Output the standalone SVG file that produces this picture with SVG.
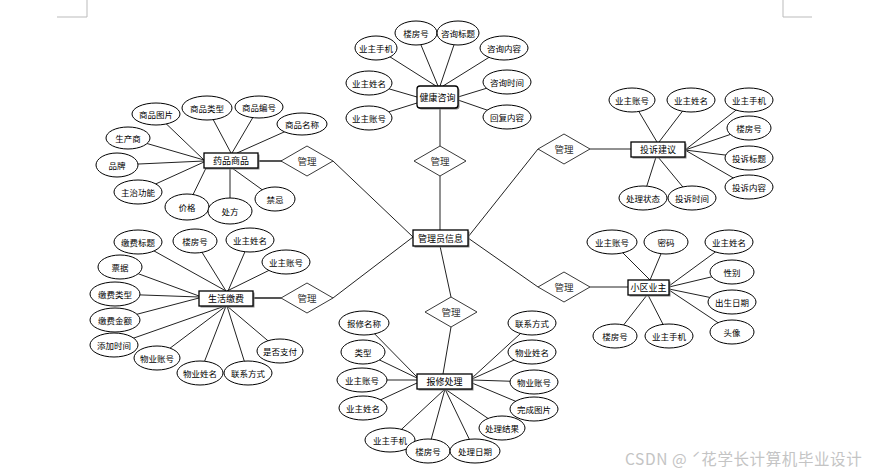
<svg xmlns="http://www.w3.org/2000/svg" width="877" height="474" viewBox="0 0 877 474">
<style>
text{font-family:"Noto Sans CJK SC","Liberation Sans",sans-serif;text-anchor:middle;dominant-baseline:central}
.a ellipse{fill:#fff;stroke:#000;stroke-width:1}
.a text{font-size:8.5px;fill:#000}
.e rect.s{fill:#888;stroke:none}
.e rect.b{fill:#fff;stroke:#000;stroke-width:1.3}
.e text{font-size:9px;fill:#000}
.r polygon{fill:#fff;stroke:#222;stroke-width:0.9}
.r text{font-size:9.5px;fill:#333}
#conn line{stroke:#222;stroke-width:1}
#conn line.t{stroke:#555;stroke-width:2}
.mark{stroke:#bbb;stroke-width:1;fill:none}
</style>
<rect width="877" height="474" fill="#fff"/>
<path class="mark" d="M57,17H87V0M783,0V17H812"/>
<g id="conn">
<!-- 健康咨询 -->
<line x1="376" y1="48" x2="436" y2="86"/><line x1="416" y1="33" x2="438" y2="86"/>
<line x1="458" y1="33" x2="440" y2="86"/><line x1="504" y1="48" x2="443" y2="86"/>
<line x1="369" y1="83" x2="417" y2="97"/><line x1="507" y1="82" x2="458" y2="97"/>
<line x1="369" y1="118" x2="417" y2="103"/><line x1="507" y1="117" x2="458" y2="100"/>
<line x1="440" y1="108" x2="440" y2="146"/><line x1="440" y1="176" x2="440" y2="230"/>
<!-- 药品商品 -->
<line x1="156" y1="114" x2="204" y2="160"/><line x1="207" y1="108" x2="231" y2="153"/>
<line x1="259" y1="107" x2="232" y2="153"/><line x1="302" y1="124" x2="237" y2="153"/>
<line x1="128" y1="138" x2="204" y2="160"/><line x1="117" y1="165" x2="204" y2="161"/>
<line x1="138" y1="192" x2="204" y2="162"/><line x1="187" y1="207" x2="206" y2="168"/>
<line x1="230" y1="211" x2="230" y2="168"/><line x1="275" y1="199" x2="232" y2="168"/>
<line class="t" x1="258" y1="161" x2="282" y2="161"/><line x1="333" y1="161" x2="413" y2="237"/>
<!-- 投诉建议 -->
<line x1="632" y1="100" x2="657" y2="142"/><line x1="691" y1="100" x2="659" y2="142"/>
<line x1="749" y1="100" x2="685" y2="150"/><line x1="749" y1="128" x2="685" y2="150"/>
<line x1="749" y1="158" x2="685" y2="150"/><line x1="749" y1="187" x2="685" y2="150"/>
<line x1="643" y1="198" x2="656" y2="157"/><line x1="692" y1="198" x2="658" y2="157"/>
<line x1="590" y1="149" x2="631" y2="149"/><line x1="538" y1="149" x2="468" y2="237"/>
<!-- 小区业主 -->
<line x1="612" y1="242" x2="650" y2="280"/><line x1="666" y1="242" x2="650" y2="280"/>
<line x1="729" y1="242" x2="669" y2="286"/><line x1="732" y1="272" x2="669" y2="287"/>
<line x1="732" y1="302" x2="669" y2="289"/><line x1="732" y1="332" x2="669" y2="290"/>
<line x1="615" y1="336" x2="647" y2="295"/><line x1="669" y1="336" x2="648" y2="295"/>
<line x1="590" y1="287" x2="628" y2="287"/><line x1="538" y1="287" x2="468" y2="238"/>
<!-- 生活缴费 -->
<line x1="138" y1="242" x2="226" y2="291"/><line x1="195" y1="241" x2="226" y2="291"/>
<line x1="250" y1="240" x2="228" y2="291"/><line x1="286" y1="262" x2="227" y2="291"/>
<line x1="120" y1="267" x2="199" y2="296"/><line x1="115" y1="294" x2="199" y2="297"/>
<line x1="115" y1="320" x2="199" y2="298"/><line x1="114" y1="345" x2="225" y2="306"/>
<line x1="157" y1="358" x2="226" y2="306"/><line x1="200" y1="373" x2="226" y2="306"/>
<line x1="248" y1="373" x2="227" y2="306"/><line x1="280" y1="351" x2="227" y2="306"/>
<line class="t" x1="253" y1="298" x2="281" y2="298"/><line x1="333" y1="298" x2="413" y2="237"/>
<!-- 报修处理 -->
<line x1="364" y1="323" x2="417" y2="377"/><line x1="363" y1="352" x2="417" y2="378"/>
<line x1="362" y1="380" x2="417" y2="380"/><line x1="363" y1="408" x2="417" y2="383"/>
<line x1="390" y1="440" x2="445" y2="389"/><line x1="428" y1="451" x2="445" y2="389"/>
<line x1="475" y1="451" x2="445" y2="389"/><line x1="502" y1="428" x2="445" y2="389"/>
<line x1="534" y1="409" x2="472" y2="383"/><line x1="534" y1="382" x2="472" y2="380"/>
<line x1="532" y1="352" x2="472" y2="379"/><line x1="532" y1="323" x2="472" y2="378"/>
<line x1="443" y1="374" x2="451" y2="327"/><line x1="440" y1="246" x2="451" y2="297"/>
</g>
<!-- relationships -->
<g id="rel-top" class="r"><polygon points="440,146 466,161 440,176 414,161"/><text x="440" y="161">管理</text></g>
<g id="rel-drug" class="r"><polygon points="307,146 333,161 307,176 281,161"/><text x="307" y="161">管理</text></g>
<g id="rel-complaint" class="r"><polygon points="564,134 590,149 564,164 538,149"/><text x="564" y="149">管理</text></g>
<g id="rel-owner" class="r"><polygon points="564,272 590,287 564,302 538,287"/><text x="564" y="287">管理</text></g>
<g id="rel-fee" class="r"><polygon points="307,283 333,298 307,313 281,298"/><text x="307" y="298">管理</text></g>
<g id="rel-repair" class="r"><polygon points="451,297 477,312 451,327 425,312"/><text x="451" y="312">管理</text></g>
<!-- entities -->
<g id="admin" class="e"><rect class="s" x="414.5" y="231.5" width="55" height="16"/><rect class="b" x="413" y="230" width="55" height="16"/><text x="440.5" y="238">管理员信息</text></g>
<g id="health" class="e"><rect class="s" x="418.5" y="87.5" width="41" height="22" rx="3"/><rect class="b" x="417" y="86" width="41" height="22" rx="3"/><text x="437.5" y="97">健康咨询</text></g>
<g id="drug" class="e"><rect class="s" x="205.5" y="154.5" width="54" height="15"/><rect class="b" x="204" y="153" width="54" height="15"/><text x="231" y="160.5">药品商品</text></g>
<g id="complaint" class="e"><rect class="s" x="632.5" y="143.5" width="54" height="15"/><rect class="b" x="631" y="142" width="54" height="15"/><text x="658" y="149.5">投诉建议</text></g>
<g id="owner" class="e"><rect class="s" x="629.5" y="281.5" width="41" height="15"/><rect class="b" x="628" y="280" width="41" height="15"/><text x="648.5" y="287.5">小区业主</text></g>
<g id="fee" class="e"><rect class="s" x="200.5" y="292.5" width="54" height="15"/><rect class="b" x="199" y="291" width="54" height="15"/><text x="226" y="298.5">生活缴费</text></g>
<g id="repair" class="e"><rect class="s" x="418.5" y="375.5" width="55" height="15"/><rect class="b" x="417" y="374" width="55" height="15"/><text x="444.5" y="381.5">报修处理</text></g>
<!-- attributes: 健康咨询 -->
<g id="h1" class="a"><ellipse cx="416" cy="33" rx="21" ry="12"/><text x="416" y="33">楼房号</text></g>
<g id="h2" class="a"><ellipse cx="458" cy="33" rx="21" ry="12"/><text x="458" y="33">咨询标题</text></g>
<g id="h3" class="a"><ellipse cx="376" cy="48" rx="21" ry="12"/><text x="376" y="48">业主手机</text></g>
<g id="h4" class="a"><ellipse cx="504" cy="48" rx="24" ry="12"/><text x="504" y="48">咨询内容</text></g>
<g id="h5" class="a"><ellipse cx="369" cy="83" rx="23" ry="12"/><text x="369" y="83">业主姓名</text></g>
<g id="h6" class="a"><ellipse cx="507" cy="82" rx="24" ry="12"/><text x="507" y="82">咨询时间</text></g>
<g id="h7" class="a"><ellipse cx="369" cy="118" rx="23" ry="12"/><text x="369" y="118">业主账号</text></g>
<g id="h8" class="a"><ellipse cx="507" cy="117" rx="24" ry="12"/><text x="507" y="117">回复内容</text></g>
<!-- 药品商品 -->
<g id="d1" class="a"><ellipse cx="156" cy="114" rx="24" ry="11"/><text x="156" y="114">商品图片</text></g>
<g id="d2" class="a"><ellipse cx="207" cy="108" rx="25" ry="12"/><text x="207" y="108">商品类型</text></g>
<g id="d3" class="a"><ellipse cx="259" cy="107" rx="24" ry="11"/><text x="259" y="107">商品编号</text></g>
<g id="d4" class="a"><ellipse cx="302" cy="124" rx="25" ry="11"/><text x="302" y="124">商品名称</text></g>
<g id="d5" class="a"><ellipse cx="128" cy="138" rx="22" ry="11"/><text x="128" y="138">生产商</text></g>
<g id="d6" class="a"><ellipse cx="117" cy="165" rx="21" ry="12"/><text x="117" y="165">品牌</text></g>
<g id="d7" class="a"><ellipse cx="138" cy="192" rx="24" ry="12"/><text x="138" y="192">主治功能</text></g>
<g id="d8" class="a"><ellipse cx="187" cy="207" rx="22" ry="13"/><text x="187" y="207">价格</text></g>
<g id="d9" class="a"><ellipse cx="230" cy="211" rx="22" ry="13"/><text x="230" y="211">处方</text></g>
<g id="d10" class="a"><ellipse cx="275" cy="199" rx="20" ry="12"/><text x="275" y="199">禁忌</text></g>
<!-- 投诉建议 -->
<g id="c1" class="a"><ellipse cx="632" cy="100" rx="23" ry="12"/><text x="632" y="100">业主账号</text></g>
<g id="c2" class="a"><ellipse cx="691" cy="100" rx="24" ry="12"/><text x="691" y="100">业主姓名</text></g>
<g id="c3" class="a"><ellipse cx="749" cy="100" rx="24" ry="12"/><text x="749" y="100">业主手机</text></g>
<g id="c4" class="a"><ellipse cx="749" cy="128" rx="22" ry="12"/><text x="749" y="128">楼房号</text></g>
<g id="c5" class="a"><ellipse cx="749" cy="158" rx="24" ry="12"/><text x="749" y="158">投诉标题</text></g>
<g id="c6" class="a"><ellipse cx="749" cy="187" rx="24" ry="12"/><text x="749" y="187">投诉内容</text></g>
<g id="c7" class="a"><ellipse cx="643" cy="198" rx="24" ry="12"/><text x="643" y="198">处理状态</text></g>
<g id="c8" class="a"><ellipse cx="692" cy="198" rx="24" ry="12"/><text x="692" y="198">投诉时间</text></g>
<!-- 小区业主 -->
<g id="o1" class="a"><ellipse cx="612" cy="242" rx="25" ry="12"/><text x="612" y="242">业主账号</text></g>
<g id="o2" class="a"><ellipse cx="666" cy="242" rx="22" ry="12"/><text x="666" y="242">密码</text></g>
<g id="o3" class="a"><ellipse cx="729" cy="242" rx="24" ry="12"/><text x="729" y="242">业主姓名</text></g>
<g id="o4" class="a"><ellipse cx="732" cy="272" rx="22" ry="12"/><text x="732" y="272">性别</text></g>
<g id="o5" class="a"><ellipse cx="732" cy="302" rx="24" ry="12"/><text x="732" y="302">出生日期</text></g>
<g id="o6" class="a"><ellipse cx="732" cy="332" rx="22" ry="12"/><text x="732" y="332">头像</text></g>
<g id="o7" class="a"><ellipse cx="615" cy="336" rx="22" ry="12"/><text x="615" y="336">楼房号</text></g>
<g id="o8" class="a"><ellipse cx="669" cy="336" rx="24" ry="12"/><text x="669" y="336">业主手机</text></g>
<!-- 生活缴费 -->
<g id="f1" class="a"><ellipse cx="138" cy="242" rx="24" ry="12"/><text x="138" y="242">缴费标题</text></g>
<g id="f2" class="a"><ellipse cx="195" cy="241" rx="22" ry="12"/><text x="195" y="241">楼房号</text></g>
<g id="f3" class="a"><ellipse cx="250" cy="240" rx="24" ry="12"/><text x="250" y="240">业主姓名</text></g>
<g id="f4" class="a"><ellipse cx="286" cy="262" rx="24" ry="12"/><text x="286" y="262">业主账号</text></g>
<g id="f5" class="a"><ellipse cx="120" cy="267" rx="22" ry="12"/><text x="120" y="267">票据</text></g>
<g id="f6" class="a"><ellipse cx="115" cy="294" rx="25" ry="12"/><text x="115" y="294">缴费类型</text></g>
<g id="f7" class="a"><ellipse cx="115" cy="320" rx="25" ry="12"/><text x="115" y="320">缴费金额</text></g>
<g id="f8" class="a"><ellipse cx="114" cy="345" rx="24" ry="12"/><text x="114" y="345">添加时间</text></g>
<g id="f9" class="a"><ellipse cx="157" cy="358" rx="23" ry="12"/><text x="157" y="358">物业账号</text></g>
<g id="f10" class="a"><ellipse cx="200" cy="373" rx="23" ry="12"/><text x="200" y="373">物业姓名</text></g>
<g id="f11" class="a"><ellipse cx="248" cy="373" rx="24" ry="12"/><text x="248" y="373">联系方式</text></g>
<g id="f12" class="a"><ellipse cx="280" cy="351" rx="23" ry="12"/><text x="280" y="351">是否支付</text></g>
<!-- 报修处理 -->
<g id="r1" class="a"><ellipse cx="364" cy="323" rx="25" ry="12"/><text x="364" y="323">报修名称</text></g>
<g id="r2" class="a"><ellipse cx="363" cy="352" rx="22" ry="12"/><text x="363" y="352">类型</text></g>
<g id="r3" class="a"><ellipse cx="362" cy="380" rx="25" ry="12"/><text x="362" y="380">业主账号</text></g>
<g id="r4" class="a"><ellipse cx="363" cy="408" rx="24" ry="12"/><text x="363" y="408">业主姓名</text></g>
<g id="r5" class="a"><ellipse cx="390" cy="440" rx="25" ry="12"/><text x="390" y="440">业主手机</text></g>
<g id="r6" class="a"><ellipse cx="428" cy="451" rx="22" ry="12"/><text x="428" y="451">楼房号</text></g>
<g id="r7" class="a"><ellipse cx="475" cy="451" rx="25" ry="12"/><text x="475" y="451">处理日期</text></g>
<g id="r8" class="a"><ellipse cx="502" cy="428" rx="23" ry="12"/><text x="502" y="428">处理结果</text></g>
<g id="r9" class="a"><ellipse cx="534" cy="409" rx="24" ry="12"/><text x="534" y="409">完成图片</text></g>
<g id="r10" class="a"><ellipse cx="534" cy="382" rx="24" ry="12"/><text x="534" y="382">物业账号</text></g>
<g id="r11" class="a"><ellipse cx="532" cy="352" rx="24" ry="12"/><text x="532" y="352">物业姓名</text></g>
<g id="r12" class="a"><ellipse cx="532" cy="323" rx="24" ry="12"/><text x="532" y="323">联系方式</text></g>
<text x="625" y="458" style="text-anchor:start;font-size:15.5px;fill:#c4c4c4;letter-spacing:0.6px">CSDN @ ˊ花学长计算机毕业设计</text>
</svg>
